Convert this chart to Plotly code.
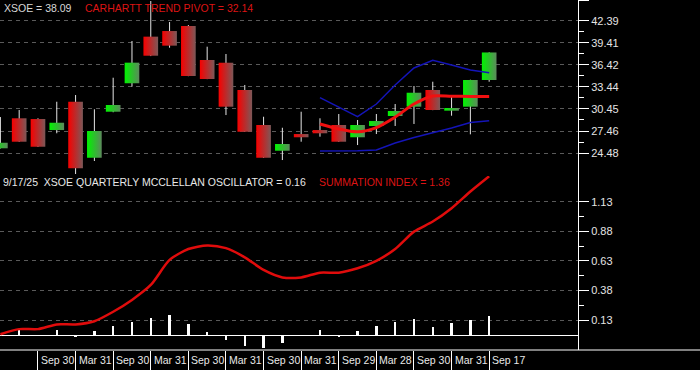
import plotly.graph_objects as go

# ---------------- data ----------------
quarters = list(range(27))  # quarterly candles, Mar 2019 ... Sep 2025
opens  = [25.12, 29.18, 29.08, 27.59, 31.42, 23.84, 30.07, 33.92, 40.23, 40.99, 41.67, 37.07, 36.70, 33.01,
          28.27, 24.79, 27.05, 27.59, 28.27, 26.61, 28.14, 29.49, 30.75, 33.01, 30.21, 30.75, 34.36]
highs  = [29.35, 30.30, 29.18, 31.42, 32.33, 30.40, 34.67, 39.64, 45.05, 42.21, 41.80, 38.87, 37.88, 33.69,
          29.39, 27.90, 30.07, 29.18, 29.76, 28.95, 29.76, 31.11, 33.55, 34.13, 32.10, 34.40, 38.10]
lows   = [25.10, 26.00, 25.30, 27.15, 21.64, 23.40, 30.00, 33.46, 37.60, 38.73, 34.88, 34.48, 29.62, 27.34,
          23.82, 23.53, 26.01, 26.69, 26.00, 25.56, 27.05, 28.14, 28.41, 30.28, 29.53, 27.01, 34.13]
closes = [25.87, 26.01, 25.33, 28.58, 22.41, 27.46, 30.98, 36.71, 37.65, 39.01, 34.90, 34.50, 30.75, 27.36,
          23.84, 25.70, 26.61, 27.15, 26.01, 28.27, 28.81, 30.17, 32.64, 30.30, 30.57, 34.36, 38.09]

band_idx = list(range(17, 27))
pivot = [28.41, 27.73, 27.36, 27.93, 29.35, 31.11, 32.20, 32.16, 32.14, 32.14]
upper = [31.97, 30.71, 29.39, 31.11, 33.69, 35.99, 37.03, 36.39, 35.72, 35.35]
lower = [24.75, 24.75, 24.79, 24.89, 25.83, 26.58, 27.19, 27.86, 28.61, 28.85]

osc = [0.0, 0.045, -0.005, 0.045, -0.015, 0.036, 0.08, 0.115, 0.15, 0.172, 0.096, 0.025, -0.04, -0.088,
       -0.105, -0.062, 0.0, 0.045, -0.015, 0.036, 0.08, 0.115, 0.138, 0.073, 0.104, 0.13, 0.16]
summation = [0.01, 0.053, 0.053, 0.093, 0.093, 0.12, 0.20, 0.30, 0.426, 0.638, 0.73, 0.76, 0.737, 0.66,
             0.553, 0.49, 0.49, 0.53, 0.53, 0.567, 0.63, 0.73, 0.877, 0.962, 1.075, 1.216, 1.345]

date_idx = [2, 4, 6, 8, 10, 12, 14, 16, 18, 20, 22, 24, 26]
date_labels = ["Sep 30", "Mar 31", "Sep 30", "Mar 31", "Sep 30", "Mar 31", "Sep 30", "Mar 31",
               "Sep 29", "Mar 28", "Sep 30", "Mar 31", "Sep 17"]

price_ticks = [24.48, 27.46, 30.45, 33.44, 36.42, 39.41, 42.39]
osc_ticks = [0.13, 0.38, 0.63, 0.88, 1.13]

title_price = "XSOE = 38.09"
title_pivot = "CARHARTT TREND PIVOT = 32.14"
title_osc = "9/17/25\u00a0 XSOE QUARTERLY MCCLELLAN OSCILLATOR = 0.16"
title_sum = "SUMMATION INDEX = 1.36"

# ---------------- style ----------------
FONT = "Liberation Sans, Arial, sans-serif"
GREEN_SCALE = [[0, "#00f400"], [1, "#5c8a5c"]]
RED_SCALE = [[0, "#f80000"], [1, "#7c5858"]]
GRID = "#5a5a5a"
HW = 0.39

fig = go.Figure()

# wicks
wx, wy = [], []
for i, h, l in zip(quarters, highs, lows):
    wx += [i, i, None]
    wy += [l, h, None]
fig.add_trace(go.Scatter(x=wx, y=wy, mode="lines", line=dict(color="#e6e6e6", width=1),
                         xaxis="x2", yaxis="y", hoverinfo="skip"))

# bodies with horizontal gradient
for i, o, c in zip(quarters, opens, closes):
    up = c >= o
    fig.add_trace(go.Scatter(
        x=[i - HW, i + HW, i + HW, i - HW, i - HW],
        y=[o, o, c, c, o],
        mode="lines", line=dict(width=0), fill="toself",
        fillgradient=dict(type="horizontal", colorscale=GREEN_SCALE if up else RED_SCALE),
        xaxis="x2", yaxis="y", hoverinfo="skip"))

# bands & pivot
fig.add_trace(go.Scatter(x=band_idx, y=upper, mode="lines", line=dict(color="#1414b8", width=1.5),
                         xaxis="x2", yaxis="y"))
fig.add_trace(go.Scatter(x=band_idx, y=lower, mode="lines", line=dict(color="#1414b8", width=1.5),
                         xaxis="x2", yaxis="y"))
fig.add_trace(go.Scatter(x=band_idx, y=pivot, mode="lines",
                         line=dict(color="#f01010", width=3, shape="spline", smoothing=0.8),
                         xaxis="x2", yaxis="y"))

# oscillator bars and summation line
fig.add_trace(go.Bar(x=quarters, y=osc, width=0.13, marker=dict(color="white", line=dict(width=0)),
                     xaxis="x", yaxis="y2"))
fig.add_trace(go.Scatter(x=quarters, y=summation, mode="lines",
                         line=dict(color="#e00c0c", width=2.5, shape="spline", smoothing=0.7),
                         xaxis="x", yaxis="y2"))

split = 174 / 350
xr = [-0.02, 30.725]

axis_common = dict(side="right", showline=True, linecolor="white", linewidth=1,
                   ticks="outside", ticklen=10, tickwidth=1, tickcolor="white",
                   tickfont=dict(size=11, color="#e4e4e4", family=FONT),
                   showgrid=True, gridcolor=GRID, gridwidth=1, griddash="4px,4px",
                   fixedrange=True)

top_tickvals = price_ticks + [45.18]
top_ticktext = [f"{v:.2f}" for v in price_ticks] + [""]
top_minor = [(a + b) / 2 for a, b in zip(price_ticks[:-1], price_ticks[1:])]
bot_minor = [(a + b) / 2 for a, b in zip(osc_ticks[:-1], osc_ticks[1:])]

fig.update_layout(
    width=700, height=370,
    margin=dict(l=0, r=122, t=0, b=20),
    paper_bgcolor="black", plot_bgcolor="black",
    showlegend=False, bargap=0,
    font=dict(family=FONT, color="white"),
    xaxis=dict(domain=[0, 1], anchor="y2", range=xr, showgrid=False, zeroline=False,
               showline=False, tickmode="array", tickvals=date_idx, ticks="outside",
               ticklen=20, tickwidth=1, tickcolor="white", showticklabels=False, fixedrange=True),
    xaxis2=dict(domain=[0, 1], anchor="y", matches="x", range=xr, showgrid=False,
                zeroline=False, showline=False, showticklabels=False, ticks=""),
    yaxis=dict(domain=[split, 1], anchor="x2", range=[21.37, 45.19],
               tickmode="array", tickvals=top_tickvals, ticktext=top_ticktext, zeroline=False,
               minor=dict(tickmode="array", tickvals=top_minor, ticks="outside", ticklen=5,
                          tickcolor="white", tickwidth=1, showgrid=False),
               **axis_common),
    yaxis2=dict(domain=[0, split], anchor="x", range=[-0.1234, 1.347],
                tickmode="array", tickvals=osc_ticks, ticktext=[f"{v:.2f}" for v in osc_ticks],
                zeroline=True, zerolinecolor="white", zerolinewidth=1,
                minor=dict(tickmode="array", tickvals=bot_minor, ticks="outside", ticklen=5,
                           tickcolor="white", tickwidth=1, showgrid=False),
                **axis_common),
)

# bottom border extending across the full width
fig.add_shape(type="line", xref="paper", yref="paper", x0=0, x1=700 / 578, y0=0, y1=0,
              line=dict(color="white", width=1))

ann_font = dict(family=FONT, size=10.5)
fig.add_annotation(xref="paper", yref="paper", x=2 / 578, y=1 - 7.5 / 350, text=title_price,
                   showarrow=False, xanchor="left", yanchor="middle",
                   font=dict(color="#d8d8d8", **ann_font))
fig.add_annotation(xref="paper", yref="paper", x=83 / 578, y=1 - 7.5 / 350, text=title_pivot,
                   showarrow=False, xanchor="left", yanchor="middle",
                   font=dict(color="#dd1414", **ann_font))
fig.add_annotation(xref="paper", yref="paper", x=0.5 / 578, y=1 - 181.5 / 350, text=title_osc,
                   showarrow=False, xanchor="left", yanchor="middle",
                   font=dict(color="#e8e8e8", **ann_font))
fig.add_annotation(xref="paper", yref="paper", x=317 / 578, y=1 - 181.5 / 350, text=title_sum,
                   showarrow=False, xanchor="left", yanchor="middle",
                   font=dict(color="#dd1414", **ann_font))

for xi, lab in zip(date_idx, date_labels):
    fig.add_annotation(xref="x", yref="paper", x=xi, y=-10 / 350, text=lab, showarrow=False,
                       xanchor="left", yanchor="middle", xshift=1,
                       font=dict(color="#e8e8e8", **ann_font))

fig.write_html("out.html")
